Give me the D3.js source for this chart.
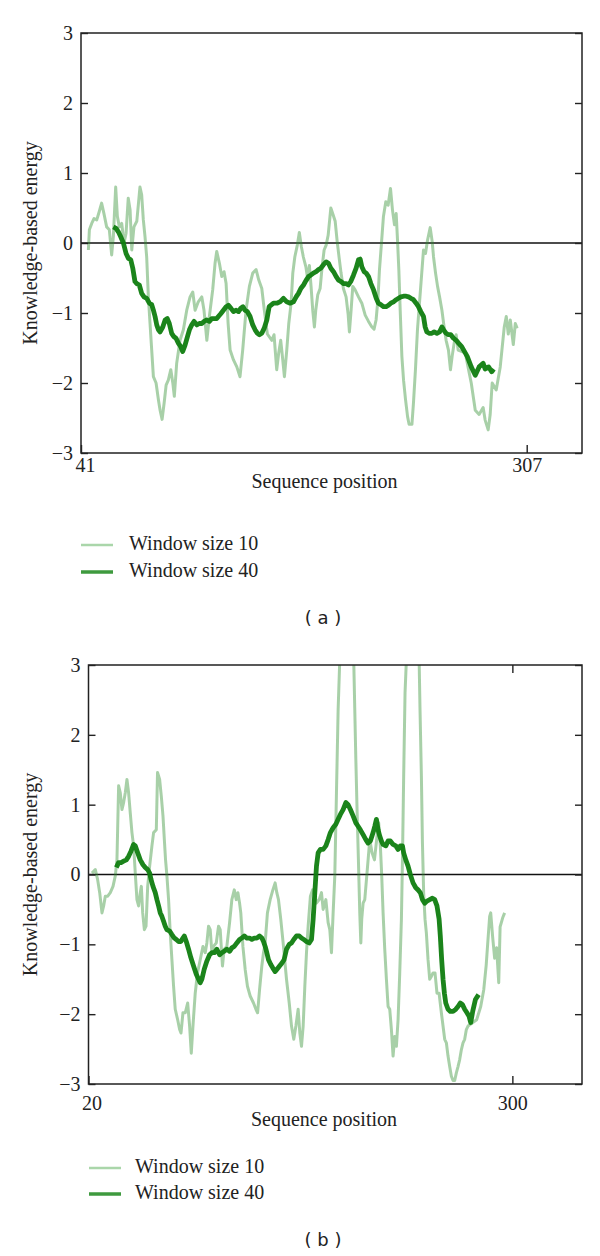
<!DOCTYPE html>
<html><head><meta charset="utf-8">
<script src="https://cdn.jsdelivr.net/npm/d3@7"></script>
<style>body{margin:0;background:#fff}svg{display:block}</style>
</head><body>
<svg id="chart" width="600" height="1256"></svg>
<script>
// ---------- DATA ----------
const yTickValues = [-3, -2, -1, 0, 1, 2, 3];
const xTicksA = [41, 307];
const xTicksB = [20, 300];
const legendLabels = ["Window size 10", "Window size 40"];
const panelTags = ["( a )", "( b )"];
const yTitle = "Knowledge-based energy";
const xTitle = "Sequence position";

// Panel (a), window size 10
const posA10 = [45.4,46.0,47.4,48.8,50.4,51.9,53.3,54.7,56.3,57.9,59.3,60.3,61.7,62.7,63.9,65.3,66.7,67.9,69.2,70.3,71.3,72.6,74.3,76.2,77.2,78.2,79.2,80.2,81.2,82.2,83.2,84.2,85.8,87.2,88.2,89.4,90.6,91.8,93.1,94.6,95.8,96.7,98.1,100.1,102.1,104.1,106.1,107.7,109.1,111.0,113.1,114.4,116.1,117.6,119.6,121.0,122.0,123.6,125.0,126.4,127.6,128.8,130.0,132.0,134.0,135.9,137.5,139.5,141.5,143.5,145.5,147.1,148.9,150.4,152.2,
154.9,156.2,157.8,159.0,160.2,161.2,162.4,163.8,165.0,166.4,167.4,168.6,170.1,171.3,172.5,173.7,175.2,176.4,177.3,178.3,179.3,180.3,181.1,182.3,183.7,184.9,186.1,187.3,188.5,190.1,191.5,192.7,193.9,195.1,196.2,197.6,199.2,200.4,201.2,202.2,203.2,204.6,206.6,208.6,210.6,212.6,214.6,215.9,217.1,218.2,219.1,220.3,221.5,222.9,224.3,225.7,226.9,228.1,229.1,229.9,230.7,231.5,232.5,233.5,234.7,235.9,236.8,238.5,239.4,240.6,241.8,243.0,244.2,245.4,246.6,247.8,249.4,250.6,251.4,252.6,253.8,255.0,256.4,257.7,258.9,260.3,261.5,262.5,263.7,264.9,266.1,
270.3,273.9,276.3,278.6,281.0,282.2,284.0,285.2,286.4,288.8,291.2,293.6,294.8,296.0,297.2,299.0,300.2,301.3];
const valA10 = [-0.10,0.19,0.28,0.35,0.33,0.45,0.57,0.42,0.23,0.19,-0.17,0.09,0.80,0.38,0.23,0.28,0.0,0.14,0.64,0.47,-0.10,0.23,0.31,0.80,0.69,0.33,0.09,-0.20,-0.77,-1.15,-1.53,-1.91,-2.0,-2.24,-2.39,-2.52,-2.29,-2.03,-1.96,-1.81,-2.0,-2.19,-1.72,-1.39,-1.24,-0.96,-0.77,-0.70,-0.96,-0.84,-0.77,-0.96,-1.39,-1.05,-0.67,-0.29,-0.12,-0.29,-0.48,-0.41,-0.58,-1.15,-1.53,-1.67,-1.77,-1.91,-1.53,-0.96,-0.62,-0.43,-0.38,-0.53,-0.65,-0.96,-1.30,
-1.39,-1.31,-1.81,-1.57,-1.39,-1.62,-1.91,-1.53,-1.15,-0.86,-0.43,-0.20,-0.03,0.15,-0.05,-0.20,-0.34,-0.53,-0.32,-0.62,-0.96,-1.20,-0.96,-0.74,-0.65,-0.34,-0.10,-0.03,0.11,0.50,0.40,0.31,0.02,-0.22,-0.43,-0.65,-0.77,-1.01,-1.27,-0.96,-0.62,-0.67,-0.77,-0.86,-1.03,-1.12,-1.20,-1.23,-1.10,-0.81,-0.39,-0.01,0.38,0.59,0.54,0.78,0.47,0.26,0.42,0.04,-0.39,-0.96,-1.62,-1.96,-2.24,-2.48,-2.59,-2.59,-2.29,-1.81,-1.24,-0.86,-0.48,-0.10,-0.15,0.04,0.22,0.02,-0.20,-0.43,-0.62,-0.77,-0.96,-1.20,-1.39,-1.53,-1.81,-1.62,-1.43,-1.31,-1.53,
-1.57,-2.0,-2.39,-2.45,-2.35,-2.53,-2.67,-2.45,-2.0,-2.1,-1.77,-1.2,-1.05,-1.3,-1.1,-1.45,-1.15,-1.22];

// Panel (a), window size 40
const posA40 = [60.3,61.9,63.3,64.7,66.3,67.9,69.3,70.7,71.9,73.2,74.3,75.8,77.2,78.6,80.2,81.8,83.2,84.2,85.2,86.2,87.2,88.2,89.8,91.2,92.5,93.7,95.1,96.5,97.7,99.1,100.5,101.7,103.1,104.5,105.7,107.1,108.5,110.1,111.6,113.1,114.4,116.1,117.6,119.0,120.4,122.0,123.0,124.4,126.0,127.6,129.0,130.4,132.0,133.6,135.0,136.4,137.6,138.9,140.3,141.9,143.5,144.9,146.3,147.5,148.9,150.3,151.9,153.3,
155.9,157.9,159.8,161.8,163.8,165.8,167.8,169.4,170.8,172.2,173.8,175.4,176.8,178.1,179.7,181.3,182.7,184.1,185.7,187.3,188.7,190.1,191.7,193.3,194.7,196.1,197.7,199.2,200.6,202.0,203.6,205.2,206.6,207.6,208.6,210.0,211.2,212.6,214.0,215.6,217.2,218.5,219.9,221.5,223.1,224.5,225.9,227.5,229.1,230.5,231.9,233.5,235.1,236.5,237.9,239.4,241.0,242.4,243.8,245.4,246.4,247.4,249.0,250.4,251.8,253.4,255.0,256.4,257.4,258.9,260.3,261.7,263.3,264.9,266.3,
268.2,271.5,273.9,276.3,278.6,281.0,282.2,284.3,286.1,287.3];
const valA40 = [0.23,0.21,0.16,0.09,0.0,-0.15,-0.22,-0.24,-0.36,-0.55,-0.58,-0.60,-0.72,-0.77,-0.79,-0.86,-0.88,-0.96,-1.05,-1.17,-1.24,-1.27,-1.20,-1.10,-1.08,-1.15,-1.29,-1.34,-1.36,-1.43,-1.48,-1.55,-1.46,-1.34,-1.24,-1.17,-1.12,-1.17,-1.15,-1.15,-1.12,-1.10,-1.12,-1.08,-1.08,-1.08,-1.05,-1.01,-0.96,-0.91,-0.89,-0.93,-0.98,-0.96,-0.98,-0.93,-0.91,-0.96,-0.98,-1.05,-1.17,-1.24,-1.29,-1.31,-1.29,-1.22,-1.10,-0.91,
-0.86,-0.86,-0.84,-0.79,-0.84,-0.86,-0.84,-0.77,-0.72,-0.65,-0.60,-0.53,-0.48,-0.46,-0.43,-0.41,-0.38,-0.36,-0.31,-0.27,-0.29,-0.36,-0.41,-0.48,-0.53,-0.55,-0.58,-0.58,-0.60,-0.55,-0.46,-0.36,-0.24,-0.23,-0.34,-0.41,-0.43,-0.48,-0.58,-0.67,-0.79,-0.86,-0.88,-0.91,-0.91,-0.89,-0.86,-0.84,-0.81,-0.79,-0.77,-0.76,-0.76,-0.77,-0.79,-0.81,-0.86,-0.91,-0.98,-1.05,-1.20,-1.27,-1.29,-1.29,-1.27,-1.29,-1.27,-1.20,-1.24,-1.29,-1.31,-1.31,-1.36,-1.39,-1.43,
-1.48,-1.62,-1.77,-1.89,-1.77,-1.72,-1.80,-1.77,-1.84,-1.80];

// Panel (b), window size 10 (peaks above 3 leave the plotting area)
const posB10 = [22.3,24.5,26.0,27.4,28.9,30.0,31.1,32.7,34.4,36.2,37.7,38.8,39.9,41.0,42.1,43.2,44.3,45.4,46.5,47.6,48.7,49.8,50.9,52.0,53.1,54.2,54.9,55.8,56.9,58.0,59.1,60.4,61.9,63.0,64.8,65.6,67.0,68.1,69.2,70.1,70.9,71.8,72.9,74.0,75.1,76.2,77.3,78.9,80.2,81.1,82.4,83.9,85.5,86.8,87.9,89.0,90.5,92.0,93.8,95.6,97.1,98.2,99.3,100.4,101.5,102.6,104.4,105.9,107.0,108.5,109.6,111.4,113.2,114.7,116.3,117.6,118.7,119.8,120.6,122.0,123.5,125.0,126.8,129.0,130.6,131.7,133.0,134.5,135.6,136.7,138.2,140.0,141.8,143.3,144.4,145.5,147.0,148.8,
150.8,152.6,154.1,155.6,157.0,158.5,159.6,160.7,161.8,162.9,164.0,165.1,166.6,168.0,169.3,170.6,172.4,173.9,175.0,176.8,178.3,179.4,180.5,181.6,182.7,183.8,184.9,186.0,190.4,195.2,195.9,196.6,197.4,198.3,199.2,199.9,200.5,201.4,202.5,204.7,205.8,207.3,208.9,210.6,211.7,212.8,213.7,214.6,215.7,216.8,217.9,219.0,220.1,221.2,222.3,223.4,224.5,225.6,226.7,227.4,228.2,229.1,230.0,234.2,238.4,239.0,239.9,240.6,241.4,242.3,243.2,244.3,245.4,246.5,247.6,248.9,250.2,251.6,253.1,254.2,255.3,256.4,257.5,258.6,259.7,260.8,261.9,263.0,264.1,265.2,266.3,267.4,268.5,269.6,270.7,
276.4,279.1,281.1,282.7,284.0,285.0,285.7,287.0,288.3,289.6,291.0,291.9,293.6,294.9];
const valB10 = [0.02,0.07,-0.07,-0.26,-0.55,-0.45,-0.31,-0.31,-0.26,-0.17,-0.02,0.21,1.27,1.17,0.93,1.03,1.17,1.36,1.17,0.88,0.60,0.41,0.02,-0.36,-0.45,-0.26,-0.17,-0.55,-0.79,-0.74,-0.17,0.12,0.41,0.60,0.64,1.46,1.36,1.12,0.84,0.50,0.21,-0.02,-0.36,-0.84,-1.22,-1.60,-1.93,-2.08,-2.22,-2.27,-1.98,-1.98,-1.84,-2.17,-2.56,-2.17,-1.70,-1.41,-1.22,-1.03,-1.12,-0.98,-0.74,-0.79,-1.12,-1.03,-0.98,-0.74,-0.79,-1.31,-1.07,-1.03,-0.69,-0.36,-0.22,-0.36,-0.26,-0.41,-0.55,-1.03,-1.36,-1.60,-1.74,-1.84,-1.93,-1.98,-1.65,-1.31,-1.12,-0.98,-0.55,-0.36,-0.22,-0.12,-0.26,-0.36,-0.64,-1.03,
-1.50,-1.84,-2.17,-2.36,-2.17,-1.93,-2.27,-2.46,-2.17,-1.60,-1.12,-0.74,-0.31,-0.22,-0.26,-0.41,-0.36,-0.26,-0.50,-0.36,-0.69,-0.79,-1.12,-0.55,-0.02,1.17,2.36,3.08,3.8,3.08,2.36,1.65,0.93,0.21,-0.55,-0.98,-0.64,-0.41,-0.36,0.21,0.50,0.31,0.21,0.55,0.74,0.41,-0.02,-0.55,-1.07,-1.50,-1.89,-1.93,-2.22,-2.60,-2.32,-2.46,-2.08,-1.41,-0.64,0.21,1.41,2.60,3.08,3.8,3.08,2.36,1.41,0.45,-0.26,-0.64,-0.84,-1.22,-1.50,-1.46,-1.41,-1.41,-1.70,-1.70,-1.98,-2.17,-2.36,-2.41,-2.60,-2.75,-2.89,-2.95,-2.95,-2.84,-2.75,-2.65,-2.51,-2.41,-2.36,-2.22,-2.17,
-2.08,-1.89,-1.65,-1.30,-0.90,-0.60,-0.55,-0.90,-1.20,-1.05,-1.55,-0.75,-0.62,-0.55];

// Panel (b), window size 40
const posB40 = [38.4,39.9,41.5,43.2,45.0,46.5,48.0,49.8,50.9,52.5,54.2,56.0,57.5,59.1,60.4,61.3,62.6,64.1,65.2,66.3,67.4,68.5,69.6,70.7,71.8,73.6,75.1,76.7,78.0,79.5,81.0,82.4,83.3,84.6,86.1,87.6,89.4,91.2,92.7,93.8,94.9,96.4,98.2,100.0,101.5,103.1,104.8,106.6,108.1,109.6,111.4,113.2,114.7,116.3,118.0,119.8,121.3,122.9,124.6,126.4,127.9,129.5,131.2,133.0,134.5,135.6,136.7,137.8,138.9,140.4,141.8,143.3,144.4,146.2,147.7,149.2,
150.8,152.6,154.1,155.6,157.4,159.2,160.7,162.2,164.0,165.8,167.3,168.4,169.5,170.6,171.7,173.2,175.0,176.8,178.3,179.8,181.6,183.4,184.9,186.4,188.2,190.0,191.5,193.0,194.8,196.6,198.1,199.6,201.4,203.2,204.7,206.2,208.0,209.1,210.2,211.3,212.4,213.5,214.6,216.4,217.9,219.4,221.2,223.0,224.5,226.0,227.4,228.2,229.6,231.1,232.6,234.4,236.2,237.7,239.2,240.6,242.1,243.6,245.4,247.2,248.7,250.2,251.6,252.4,253.3,254.2,255.1,256.0,257.5,259.0,260.8,262.6,264.1,265.6,267.0,268.5,270.0,271.4,
272.5,273.8,275.6,277.7];
const valB40 = [0.10,0.17,0.17,0.19,0.21,0.26,0.33,0.43,0.41,0.31,0.21,0.14,0.10,0.07,0.02,-0.07,-0.17,-0.26,-0.36,-0.45,-0.55,-0.60,-0.67,-0.74,-0.79,-0.81,-0.86,-0.91,-0.93,-0.96,-0.96,-0.91,-0.88,-0.96,-1.07,-1.19,-1.31,-1.43,-1.50,-1.55,-1.50,-1.36,-1.24,-1.15,-1.12,-1.12,-1.07,-1.15,-1.12,-1.10,-1.07,-1.10,-1.05,-1.03,-0.98,-0.93,-0.91,-0.88,-0.91,-0.91,-0.93,-0.91,-0.91,-0.88,-0.91,-0.96,-1.03,-1.12,-1.22,-1.29,-1.34,-1.39,-1.36,-1.31,-1.27,-1.22,
-1.07,-1.00,-0.98,-0.93,-0.88,-0.88,-0.91,-0.93,-0.96,-0.98,-0.93,-0.64,-0.26,0.12,0.31,0.36,0.36,0.41,0.50,0.60,0.67,0.72,0.79,0.86,0.93,1.03,1.00,0.93,0.84,0.74,0.69,0.64,0.57,0.50,0.45,0.48,0.60,0.69,0.79,0.64,0.55,0.48,0.43,0.41,0.48,0.48,0.43,0.41,0.36,0.41,0.41,0.31,0.21,0.12,0.0,-0.12,-0.19,-0.22,-0.26,-0.36,-0.41,-0.38,-0.36,-0.34,-0.36,-0.45,-0.64,-0.88,-1.22,-1.50,-1.70,-1.84,-1.93,-1.96,-1.96,-1.93,-1.89,-1.84,-1.86,-1.93,-1.98,-2.03,
-2.12,-1.96,-1.79,-1.72];

// ---------- LAYOUT ----------
const SERIF = "'Liberation Serif','Times New Roman',serif";
const panels = [
  { tag: panelTags[0], xDomain: [41, 340], xTicks: xTicksA, topTick: false,
    left: 81, right: 582, top: 33, bottom: 453,
    s10: d3.zip(posA10, valA10), s40: d3.zip(posA40, valA40),
    tickPad: 5, firstDx: 4, xTitleX: 324.5, xTitleY: 487.5, yTitleX: 30,
    legX: 81, legY: [545, 572], legTextX: 129, tagY: 618 },
  { tag: panelTags[1], xDomain: [20, 346], xTicks: xTicksB, topTick: true,
    left: 88.5, right: 582, top: 665, bottom: 1084,
    s10: d3.zip(posB10, valB10), s40: d3.zip(posB40, valB40),
    tickPad: 12, firstDx: 3, xTitleX: 324, xTitleY: 1126, yTitleX: 30,
    legX: 89, legY: [1168, 1194], legTextX: 135, tagY: 1240 }
];

const svg = d3.select("#chart");
const LIGHT = "#2f8f2f", DARK = "#0f7d0f";
const intFmt = d3.format("d");

panels.forEach((p, i) => {
  const x = d3.scaleLinear().domain(p.xDomain).range([p.left, p.right]);
  const y = d3.scaleLinear().domain([-3, 3]).range([p.bottom, p.top]);
  const g = svg.append("g");
  const clipId = "clip" + i;
  svg.append("clipPath").attr("id", clipId).append("rect")
    .attr("x", p.left).attr("y", p.top)
    .attr("width", p.right - p.left).attr("height", p.bottom - p.top);

  // zero line
  g.append("line").attr("x1", p.left).attr("x2", p.right)
    .attr("y1", y(0)).attr("y2", y(0))
    .attr("stroke", "#111").attr("stroke-width", 1.4);

  const line = d3.line().x(d => x(d[0])).y(d => y(d[1]));
  const plot = g.append("g").attr("clip-path", `url(#${clipId})`);
  plot.append("path").datum(p.s10).attr("d", line)
    .attr("fill", "none").attr("stroke", LIGHT).attr("stroke-opacity", 0.42)
    .attr("stroke-width", 3).attr("stroke-linejoin", "round");
  plot.append("path").datum(p.s40).attr("d", line)
    .attr("fill", "none").attr("stroke", DARK).attr("stroke-opacity", 0.95)
    .attr("stroke-width", 4.8).attr("stroke-linejoin", "round");

  // frame
  g.append("rect").attr("x", p.left).attr("y", p.top)
    .attr("width", p.right - p.left).attr("height", p.bottom - p.top)
    .attr("fill", "none").attr("stroke", "#222").attr("stroke-width", 1.5);

  // y axes
  const yl = g.append("g").attr("transform", `translate(${p.left},0)`)
    .call(d3.axisLeft(y).tickValues(yTickValues).tickSize(-7).tickPadding(8).tickFormat(intFmt));
  const yr = g.append("g").attr("transform", `translate(${p.right},0)`)
    .call(d3.axisRight(y).tickValues(yTickValues).tickSize(-7).tickFormat(""));
  // x axes
  const xb = g.append("g").attr("transform", `translate(0,${p.bottom})`)
    .call(d3.axisBottom(x).tickValues(p.xTicks).tickSize(-8).tickPadding(p.tickPad).tickFormat(intFmt));
  xb.selectAll(".tick text").attr("dx", (d, j) => j === 0 ? p.firstDx : 0);
  if (p.topTick) {
    g.append("g").attr("transform", `translate(0,${p.top})`)
      .call(d3.axisTop(x).tickValues([p.xTicks[1]]).tickSize(-8).tickFormat(""))
      .call(a => a.select(".domain").remove())
      .selectAll(".tick line").attr("stroke", "#222").attr("stroke-width", 1.4);
  }
  [yl, yr, xb].forEach(a => {
    a.select(".domain").remove();
    a.selectAll(".tick line").attr("stroke", "#222").attr("stroke-width", 1.4);
    a.selectAll(".tick text").attr("font-family", SERIF).attr("font-size", 20).attr("fill", "#222");
  });

  // titles
  g.append("text").attr("x", p.xTitleX).attr("y", p.xTitleY)
    .attr("text-anchor", "middle").attr("font-family", SERIF).attr("font-size", 20)
    .attr("fill", "#222").text(xTitle);
  g.append("text")
    .attr("transform", `translate(${p.yTitleX},${(p.top + p.bottom) / 2}) rotate(-90)`)
    .attr("text-anchor", "middle").attr("dy", "0.35em")
    .attr("font-family", SERIF).attr("font-size", 20).attr("fill", "#222").text(yTitle);

  // legend
  const legStyles = [{ c: "#aad6aa", w: 2.5 }, { c: "#3e9a3e", w: 3.5 }];
  legendLabels.forEach((lab, j) => {
    g.append("line").attr("x1", p.legX).attr("x2", p.legX + 32)
      .attr("y1", p.legY[j]).attr("y2", p.legY[j])
      .attr("stroke", legStyles[j].c).attr("stroke-width", legStyles[j].w);
    g.append("text").attr("x", p.legTextX).attr("y", p.legY[j] + 4.5)
      .attr("font-family", SERIF).attr("font-size", 20).attr("fill", "#222").text(lab);
  });

  // panel tag
  g.append("text").attr("x", 323).attr("y", p.tagY).attr("dy", "0.35em")
    .attr("text-anchor", "middle").attr("font-family", "'DejaVu Sans',sans-serif")
    .attr("font-size", 18).attr("fill", "#222").text(p.tag);
});
</script>
</body></html>
